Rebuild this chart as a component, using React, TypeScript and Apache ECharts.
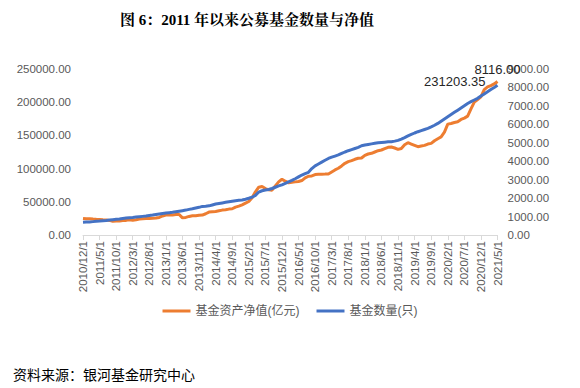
import React, { useEffect, useRef } from "react";
import * as echarts from "echarts";

// Monthly categories 2010/12 .. 2021/5
const startYear = 2010;
const startMonth = 12;
const monthCount = 126;
const categories: string[] = [];
for (let i = 0; i < monthCount; i++) {
  const m0 = startMonth - 1 + i;
  const y = startYear + Math.floor(m0 / 12);
  const m = (m0 % 12) + 1;
  categories.push(`${y}/${m}/1`);
}

// 基金资产净值(亿元)
const navValues: number[] = [
  25000,
  24500, 24600, 24000, 23600, 23300, 22800, 22500, 22000, 20500, 21200, 21000, 21700,
  22000, 22800, 22200, 22900, 24000, 24500, 24800, 25000, 25300, 25600, 26500, 28700,
  30000, 30500, 30200, 30800, 31000, 25800, 26500, 28000, 29000, 29000, 29800, 30000,
  32000, 34500, 35000, 35500, 36500, 37500, 38000, 39000, 39500, 42000, 43500, 45400,
  48000, 50500, 56000, 65000, 72000, 73000, 70000, 68000, 67500, 74000, 80000, 84000,
  81000, 78500, 79500, 80000, 80500, 82000, 86000, 88500, 89000, 91000, 91500, 91600,
  91700, 92000, 95000, 98000, 100500, 104000, 108000, 110500, 112000, 114000, 115500, 116000,
  120000, 122000, 123000, 125000, 127000, 128000, 130000, 132000, 132500, 131000, 129000, 130300,
  136000, 139000, 137000, 135000, 133000, 134000, 135000, 137000, 138000, 142000, 145000, 147700,
  155000, 167000, 168000, 169500, 170500, 174000, 176000, 179000, 190000, 200000, 204000, 208000,
  219000, 223000, 225000, 227500, 231203.35,
];

// 基金数量(只)
const countValues: number[] = [
  690,
  700, 710, 725, 740, 755, 775, 790, 810, 830, 850, 870, 900,
  920, 935, 950, 970, 990, 1010, 1030, 1060, 1080, 1110, 1140, 1170,
  1190, 1210, 1230, 1260, 1290, 1320, 1350, 1390, 1420, 1460, 1500, 1550,
  1560, 1580, 1630, 1680, 1710, 1740, 1770, 1800, 1830, 1860, 1880, 1900,
  1940, 1990, 2050, 2150, 2330, 2400, 2440, 2470, 2520, 2590, 2660, 2720,
  2800, 2880, 2960, 3050, 3150, 3250, 3330, 3400, 3600, 3750, 3850, 3950,
  4050, 4150, 4220, 4280, 4340, 4420, 4500, 4570, 4630, 4690, 4750, 4840,
  4880, 4910, 4940, 4970, 5000, 5020, 5035, 5050, 5060, 5090, 5130, 5200,
  5280, 5370, 5450, 5530, 5600, 5660, 5720, 5780, 5860, 5950, 6050, 6170,
  6290, 6410, 6530, 6650, 6770, 6890, 7010, 7130, 7230, 7320, 7410, 7530,
  7650, 7770, 7890, 8000, 8116,
];

const leftTicks = { min: 0, max: 250000, interval: 50000 };
const rightTicks = { min: 0, max: 9000, interval: 1000 };

const titleText = "图 6：2011 年以来公募基金数量与净值";
const sourceText = "资料来源：银河基金研究中心";
const navName = "基金资产净值(亿元)";
const countName = "基金数量(只)";

const font = "'Liberation Sans', Arial, 'Noto Sans CJK SC', sans-serif";

export default function App() {
  const ref = useRef<HTMLDivElement>(null);
  useEffect(() => {
    if (!ref.current) return;
    const chart = echarts.init(ref.current, undefined, { renderer: "svg" });
    const lastIdx = navValues.length - 1;
    const navData = navValues.map((v, i) =>
      i === lastIdx
        ? {
            value: v,
            label: {
              show: true,
              position: "left",
              distance: 12,
              formatter: (p: any) => Number(p.value).toFixed(2),
              color: "#262626",
              fontSize: 13,
              fontFamily: font,
            },
          }
        : v
    );
    const countData = countValues.map((v, i) =>
      i === countValues.length - 1
        ? {
            value: v,
            label: {
              show: true,
              position: "top",
              distance: 9,
              formatter: (p: any) => Number(p.value).toFixed(2),
              color: "#262626",
              fontSize: 13,
              fontFamily: font,
            },
          }
        : v
    );
    chart.setOption({
      animation: false,
      backgroundColor: "#ffffff",
      title: [
        {
          text: titleText,
          left: 242,
          textAlign: "center",
          top: 7,
          textStyle: {
            fontSize: 15,
            fontWeight: "bold",
            color: "#000",
            fontFamily: "'Liberation Serif', 'Noto Serif CJK SC', 'Noto Sans CJK SC', serif",
          },
        },
        {
          text: sourceText,
          left: 8,
          top: 362,
          textStyle: {
            fontSize: 14,
            fontWeight: "normal",
            color: "#000",
            fontFamily: "'Noto Sans CJK SC', sans-serif",
          },
        },
      ],
      legend: {
        bottom: 66,
        left: "center",
        itemWidth: 28,
        itemHeight: 3,
        itemGap: 17,
        icon: "rect",
        textStyle: { fontSize: 12, color: "#595959", fontFamily: font },
        data: [navName, countName],
      },
      grid: { left: 83, right: 82.5, top: 69, bottom: 153 },
      xAxis: {
        type: "category",
        data: categories,
        boundaryGap: false,
        axisLine: { lineStyle: { color: "#d9d9d9" } },
        axisTick: { interval: 4, length: 5, lineStyle: { color: "#d9d9d9" } },
        axisLabel: {
          interval: 4,
          rotate: 90,
          margin: 6,
          fontSize: 11.5,
          color: "#595959",
          fontFamily: font,
        },
        splitLine: { show: false },
      },
      yAxis: [
        {
          type: "value",
          ...leftTicks,
          axisLine: { show: false },
          axisTick: { show: false },
          splitLine: { show: false },
          axisLabel: {
            margin: 12,
            fontSize: 11.5,
            color: "#595959",
            fontFamily: font,
            formatter: (v: number) => v.toFixed(2),
          },
        },
        {
          type: "value",
          ...rightTicks,
          position: "right",
          axisLine: { show: false },
          axisTick: { show: false },
          splitLine: { show: false },
          axisLabel: {
            margin: 10,
            fontSize: 11.5,
            color: "#595959",
            fontFamily: font,
            formatter: (v: number) => v.toFixed(2),
          },
        },
      ],
      series: [
        {
          name: navName,
          type: "line",
          yAxisIndex: 0,
          data: navData,
          showSymbol: true,
          symbol: "circle",
          symbolSize: 0,
          lineStyle: { width: 3, color: "#ED7D31" },
          itemStyle: { color: "#ED7D31" },
          z: 2,
        },
        {
          name: countName,
          type: "line",
          yAxisIndex: 1,
          data: countData,
          showSymbol: true,
          symbol: "circle",
          symbolSize: 0,
          lineStyle: { width: 3, color: "#4472C4" },
          itemStyle: { color: "#4472C4" },
          labelLayout: { hideOverlap: false },
          z: 3,
        },
      ],
    });
    return () => chart.dispose();
  }, []);
  return (
    <div
      ref={ref}
      style={{ position: "fixed", left: 0, top: 0, width: 580, height: 388, background: "#fff" }}
    />
  );
}
